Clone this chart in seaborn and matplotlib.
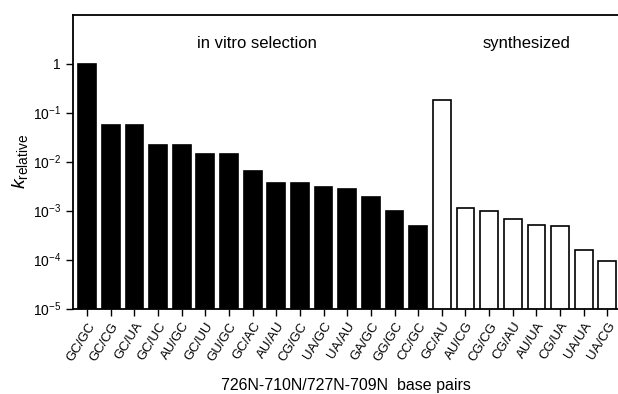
import numpy as np
import pandas as pd
import seaborn as sns
import matplotlib
matplotlib.use("Agg")
import matplotlib.pyplot as plt

# base pair combinations and relative rates
pairs_selected = ["GC/GC", "GC/CG", "GC/UA", "GC/UC", "AU/GC", "GC/UU", "GU/GC", "GC/AC",
                  "AU/AU", "CG/GC", "UA/GC", "UA/AU", "GA/GC", "GG/GC", "CC/GC"]
k_selected = [1.0, 0.055, 0.055, 0.022, 0.022, 0.014, 0.014, 0.0063,
              0.0037, 0.0037, 0.0030, 0.0028, 0.0019, 0.0010, 0.00049]
pairs_synth = ["GC/AU", "AU/CG", "CG/CG", "CG/AU", "AU/UA", "CG/UA", "UA/UA", "UA/CG"]
k_synth = [0.18, 0.0011, 0.00099, 0.00068, 0.00051, 0.00048, 0.000155, 0.000094]

ytick_vals = [1e-5, 1e-4, 1e-3, 1e-2, 1e-1, 1]
ytick_labels = ["10$^{-5}$", "10$^{-4}$", "10$^{-3}$", "10$^{-2}$", "10$^{-1}$", "1"]

df = pd.DataFrame({
    "pair": pairs_selected + pairs_synth,
    "k": k_selected + k_synth,
    "group": ["selection"] * len(pairs_selected) + ["synthesized"] * len(pairs_synth),
})

sns.set_style("ticks")
plt.rcParams["font.family"] = ["Liberation Sans", "DejaVu Sans"]
plt.rcParams["mathtext.fontset"] = "custom"
plt.rcParams["mathtext.rm"] = "Liberation Sans"
plt.rcParams["mathtext.it"] = "Liberation Sans:italic"
for key in ["text.color", "axes.labelcolor", "xtick.color", "ytick.color", "axes.edgecolor"]:
    plt.rcParams[key] = "black"

fig = plt.figure(figsize=(6.18, 3.94), dpi=100)
ax = fig.add_axes([0.118, 0.217, 0.882, 0.746])

sns.barplot(data=df, x="pair", y="k", hue="group",
            palette={"selection": "black", "synthesized": "white"},
            edgecolor="black", linewidth=1.2, width=0.75, dodge=False,
            legend=False, ax=ax)

ax.set_yscale("log")
ax.set_ylim(1e-5, 10)
ax.set_xlim(-0.6, len(df) - 0.55)
ax.set_yticks(ytick_vals)
ax.set_yticklabels(ytick_labels, fontsize=10)
ax.minorticks_off()
ax.tick_params(axis="both", direction="out", length=5, width=1, color="black")
plt.setp(ax.get_xticklabels(), rotation=58, ha="right", rotation_mode="anchor", fontsize=9.5)

for side in ["left", "bottom", "top"]:
    ax.spines[side].set_linewidth(1.3)
ax.spines["right"].set_visible(False)

ax.set_ylabel(r"$\mathit{k}_{\mathrm{relative}}$", fontsize=14, labelpad=2)
ax.set_xlabel("726N-710N/727N-709N  base pairs", fontsize=11.5, labelpad=10)

ax.text(7.2, 2.6, "in vitro selection", fontsize=12, ha="center", va="center")
ax.text(18.6, 2.6, "synthesized", fontsize=12, ha="center", va="center")

fig.savefig("out.png", dpi=100)
